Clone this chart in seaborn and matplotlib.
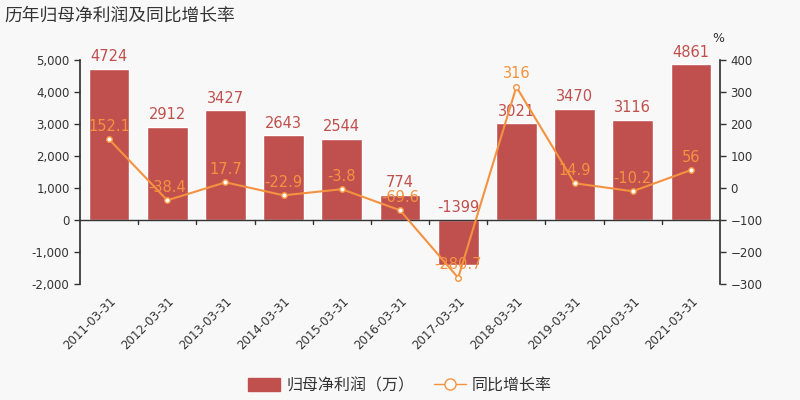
import matplotlib.pyplot as plt
import matplotlib.ticker as mticker
from matplotlib.lines import Line2D
from matplotlib.patches import Patch
import seaborn as sns
import numpy as np
import pandas as pd

dates = ["2011-03-31", "2012-03-31", "2013-03-31", "2014-03-31", "2015-03-31",
         "2016-03-31", "2017-03-31", "2018-03-31", "2019-03-31", "2020-03-31",
         "2021-03-31"]
profit = [4724, 2912, 3427, 2643, 2544, 774, -1399, 3021, 3470, 3116, 4861]
growth = [152.1, -38.4, 17.7, -22.9, -3.8, -69.6, -280.7, 316, 14.9, -10.2, 56]

bar_color = "#c0504e"
line_color = "#f59240"
bg = "#f8f8f8"
text_color = "#333333"

sns.set_theme(style="white")
plt.rcParams["font.family"] = ["DejaVu Sans", "Noto Sans CJK SC"]

df = pd.DataFrame({"date": dates, "profit": profit, "growth": growth,
                   "pos": np.arange(len(dates))})

fig = plt.figure(figsize=(8, 4), dpi=100, facecolor=bg)
ax = fig.add_axes([0.1, 0.29, 0.8, 0.56])
ax.set_facecolor(bg)

sns.barplot(data=df, x="pos", y="profit", color=bar_color, width=0.7,
            saturation=1, ax=ax, native_scale=True)
ax.set_xlim(-0.5, len(dates) - 0.5)
ax.set_ylim(-2000, 5000)
ax.yaxis.set_major_locator(mticker.MultipleLocator(1000))
ax.yaxis.set_major_formatter(mticker.FuncFormatter(lambda v, p: f"{int(v):,}"))

for i, v in enumerate(profit):
    y = max(v, 0)
    ax.text(i, y + 150, str(v), ha="center", va="bottom", color=bar_color, fontsize=10.5)

ax2 = ax.twinx()
sns.lineplot(data=df, x="pos", y="growth", color=line_color, lw=1.5,
             marker="o", markersize=4, markerfacecolor="white",
             markeredgecolor=line_color, markeredgewidth=1, ax=ax2)
ax2.set_ylim(-300, 400)
ax2.yaxis.set_major_locator(mticker.MultipleLocator(100))
for i, v in enumerate(growth):
    ax2.text(i, v + 17, f"{v:g}", ha="center", va="bottom", color=line_color, fontsize=10.5)

# axes styling
for a in (ax, ax2):
    a.set_xlabel("")
    a.set_ylabel("")
    for s in ("top", "bottom"):
        a.spines[s].set_visible(False)
    a.spines["left"].set_color(text_color)
    a.spines["right"].set_color(text_color)
    a.tick_params(axis="y", colors=text_color, labelsize=8.5, length=4, width=1,
                  direction="out")
    a.tick_params(axis="y", labelcolor=text_color)
ax.spines["right"].set_visible(False)
ax2.spines["left"].set_visible(False)
ax.axhline(0, color=text_color, lw=1, zorder=3)

ax.set_xticks(np.arange(len(dates)))
ax.set_xticklabels(dates, rotation=45, ha="right", rotation_mode="anchor",
                   fontsize=8.5, color=text_color)
ax.tick_params(axis="x", length=0, pad=8)
for b in np.arange(0.5, len(dates) - 0.5, 1):
    ax.plot([b, b], [0, -120], color=text_color, lw=1, clip_on=False, zorder=3)

fig.text(0.898, 0.895, "%", fontsize=9, color=text_color, ha="center")
fig.text(0.006, 0.962, "历年归母净利润及同比增长率", fontsize=12.8, color=text_color,
         family=["Noto Sans CJK SC"], fontweight="medium", va="center")

handles = [Patch(facecolor=bar_color, edgecolor=bar_color),
           Line2D([0], [0], color=line_color, marker="o", markersize=8,
                  markerfacecolor="white", markeredgecolor=line_color, lw=1)]
leg = fig.legend(handles, ["归母净利润（万）", "同比增长率"], loc="center",
                 bbox_to_anchor=(0.5, 0.036), ncol=2, frameon=False,
                 prop={"family": ["Noto Sans CJK SC"], "size": 11.5},
                 handlelength=2.0, handleheight=0.9, columnspacing=1.2,
                 handletextpad=0.4)
for t in leg.get_texts():
    t.set_color(text_color)

fig.savefig("out.png", dpi=100, facecolor=bg)
